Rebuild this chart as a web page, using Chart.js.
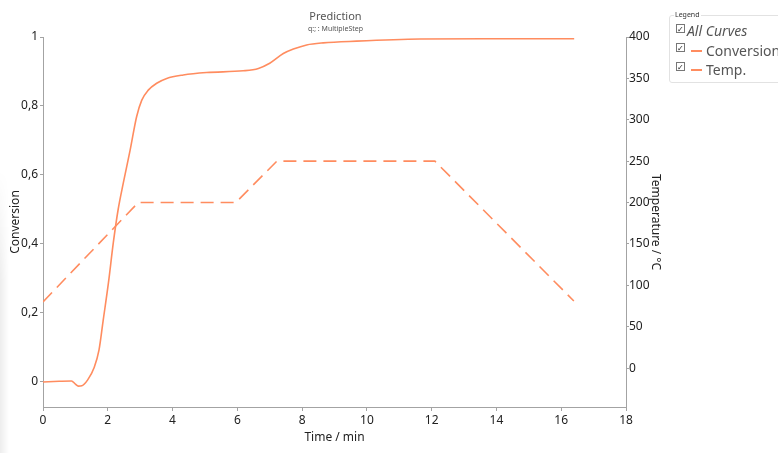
<!DOCTYPE html>
<html>
<head>
<meta charset="utf-8">
<script src="https://cdn.jsdelivr.net/npm/chart.js@4/dist/chart.umd.min.js"></script>
<style>
  html, body { margin:0; padding:0; background:#fff; }
  #wrap { position:relative; width:778px; height:453px; overflow:hidden; font-family:"Noto Sans","Open Sans",sans-serif; }
  #c { position:absolute; left:0; top:0; }
  #shade { position:absolute; left:0; top:170px; width:9px; height:283px;
    background:linear-gradient(to right, rgba(0,0,0,0.07), rgba(0,0,0,0));
    -webkit-mask-image:linear-gradient(to bottom, transparent, #000 40%); }
  #legend { position:absolute; left:669px; top:15px; width:130px; height:68px;
    border:1px solid #e2e2e2; border-radius:3px; box-sizing:border-box; }
  #legend .ttl { position:absolute; left:4px; top:-6px; font-size:7px; color:#333; background:#fff; padding:0 1px; line-height:9px; }
  .item { position:absolute; left:6px; height:16px; font-size:14px; color:#555; line-height:16px; white-space:nowrap; }
  .cb { position:absolute; left:0; top:0px; width:7px; height:7px; border:1px solid #777; background:#fff;
    font-size:8px; line-height:7px; text-align:center; color:#222; }
  .sw { position:absolute; left:15px; top:7px; width:11px; height:1.5px; background:rgb(255,140,95); }
  .lbl { position:absolute; left:30px; top:0; }
</style>
</head>
<body>
<div id="wrap">
  <canvas id="c" width="778" height="453"></canvas>
  <div id="shade"></div>
  <div id="legend">
    <span class="ttl">Legend</span>
    <div class="item" style="top:7px;"><span class="cb" style="top:1px;">✓</span><span class="lbl" style="left:11px;font-style:italic;">All Curves</span></div>
    <div class="item" style="top:27px;"><span class="cb">✓</span><span class="sw"></span><span class="lbl">Conversion</span></div>
    <div class="item" style="top:46px;"><span class="cb">✓</span><span class="sw"></span><span class="lbl">Temp.</span></div>
  </div>
</div>
<script>
// ---- data ----
const convTime = [0, 0.5, 0.88, 1.0, 1.09, 1.2, 1.38, 1.58, 1.73, 1.86, 2.02, 2.17, 2.32, 2.48, 2.69, 2.89, 3.05, 3.25, 3.51, 3.82, 4.33, 5.05, 6.18, 6.65, 7.0, 7.42, 7.73, 8.14, 8.65, 9.68, 11.64, 14.0, 16.4];
const convValues = [0, 0.002, 0.003, -0.006, -0.012, -0.011, 0.006, 0.042, 0.093, 0.18, 0.287, 0.403, 0.5, 0.577, 0.672, 0.769, 0.817, 0.846, 0.866, 0.88, 0.89, 0.897, 0.902, 0.909, 0.924, 0.952, 0.965, 0.977, 0.983, 0.988, 0.994, 0.995, 0.995];
const tempTime = [0, 2.94, 5.95, 7.22, 12.1, 16.39];
const tempValues = [80, 200, 200, 250, 250, 81];
const timeTicks = [0, 2, 4, 6, 8, 10, 12, 14, 16, 18];
const convTicks = [0, 0.2, 0.4, 0.6, 0.8, 1];
const convTickLabels = ["0", "0,2", "0,4", "0,6", "0,8", "1"];
const tempTicks = [0, 50, 100, 150, 200, 250, 300, 350, 400];

const lineColor = 'rgb(255,140,95)';
const axisColor = '#a3a3a3';
const font = { family: '"Noto Sans","Open Sans",sans-serif', size: 12 };

new Chart(document.getElementById('c'), {
  type: 'line',
  data: {
    datasets: [
      { label: 'Conversion', data: convTime.map((t, i) => ({ x: t, y: convValues[i] })),
        yAxisID: 'y', borderColor: lineColor, borderWidth: 1.6, pointRadius: 0,
        cubicInterpolationMode: 'monotone', fill: false },
      { label: 'Temp.', data: tempTime.map((t, i) => ({ x: t, y: tempValues[i] })),
        yAxisID: 'y2', borderColor: lineColor, borderWidth: 1.6, pointRadius: 0,
        borderDash: [13, 7], tension: 0, fill: false }
    ]
  },
  options: {
    responsive: false, animation: false, devicePixelRatio: 1,
    layout: { padding: { top: 0, right: 107, bottom: 0, left: 0 } },
    plugins: {
      legend: { display: false },
      tooltip: { enabled: false },
      title: { display: true, text: 'Prediction', color: '#555',
        font: { family: font.family, size: 11, weight: 'normal' }, padding: { top: 10, bottom: 0 } },
      subtitle: { display: true, text: 'q:; : MultipleStep', color: '#555',
        font: { family: font.family, size: 7, weight: 'normal' }, padding: { top: 2, bottom: 3.4 } }
    },
    scales: {
      x: {
        type: 'linear', min: 0, max: 18,
        afterFit: s => { s.height = 46; },
        afterBuildTicks: s => { s.ticks = timeTicks.map(v => ({ value: v })); },
        ticks: { color: '#222', font: font, padding: 2, maxRotation: 0 },
        grid: { drawOnChartArea: false, drawTicks: true, tickLength: 4, color: axisColor },
        border: { display: true, color: axisColor },
        title: { display: true, text: 'Time / min', color: '#222', font: font, padding: { top: 0, bottom: 8 } }
      },
      y: {
        position: 'left', min: -0.0725, max: 1,
        afterFit: s => { s.width = 43; },
        afterBuildTicks: s => { s.ticks = convTicks.map(v => ({ value: v })); },
        ticks: { color: '#222', font: font, padding: 2, callback: (v, i) => convTickLabels[i] },
        grid: { drawOnChartArea: false, drawTicks: true, tickLength: 3, color: axisColor },
        border: { display: true, color: axisColor },
        title: { display: true, text: 'Conversion', color: '#222', font: font, padding: { top: 8, bottom: 0 } }
      },
      y2: {
        position: 'right', min: -47, max: 400,
        afterFit: s => { s.width = 45; },
        afterBuildTicks: s => { s.ticks = tempTicks.map(v => ({ value: v })); },
        ticks: { color: '#222', font: font, padding: 0, callback: v => String(v) },
        grid: { drawOnChartArea: false, drawTicks: true, tickLength: 3, color: axisColor },
        border: { display: true, color: axisColor },
        title: { display: true, text: 'Temperature / °C', color: '#222', font: font, padding: { top: 8, bottom: 0 } }
      }
    }
  }
});
</script>
</body>
</html>
